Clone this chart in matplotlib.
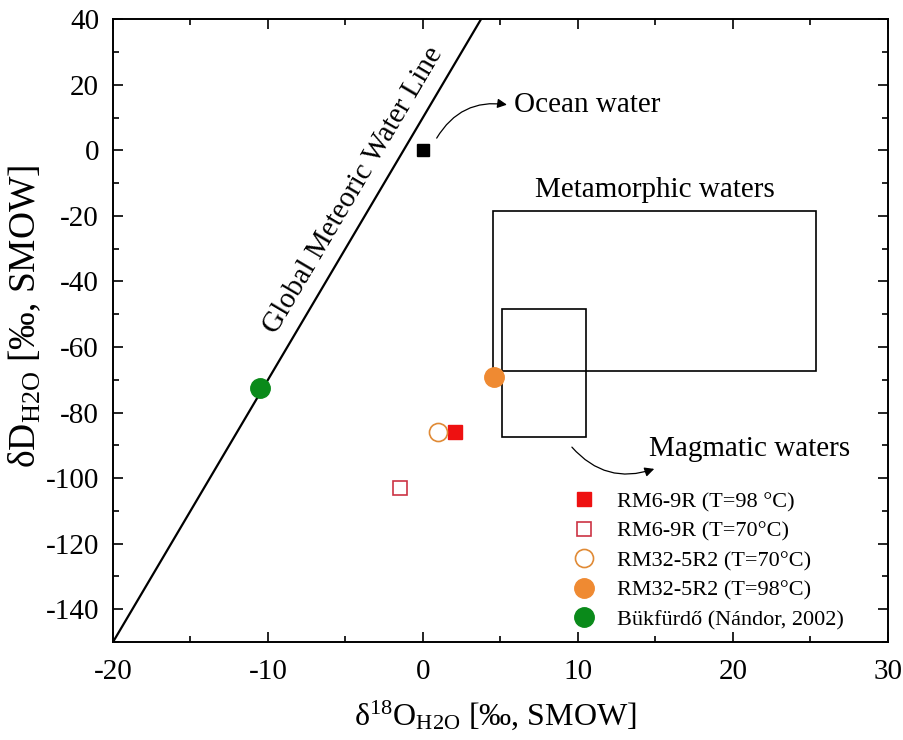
import matplotlib
matplotlib.use('Agg')
import matplotlib.pyplot as plt
import matplotlib.patches as mpatches
import numpy as np

plt.rcParams['font.family'] = ['Liberation Serif', 'DejaVu Serif']
plt.rcParams['mathtext.fontset'] = 'custom'
plt.rcParams['mathtext.rm'] = 'Liberation Serif'
plt.rcParams['mathtext.default'] = 'regular'
plt.rcParams['axes.unicode_minus'] = False

# ── data ─────────────────────────────────────────────
gmwl_slope, gmwl_icpt = 8, 10          # Global Meteoric Water Line dD = 8*d18O + 10
gmwl_x = [-20, 3.75]

ocean = (0.0, 0.0)
labels = ['RM6-9R (T=98 °C)', 'RM6-9R (T=70°C)', 'RM32-5R2 (T=70°C)',
          'RM32-5R2 (T=98°C)', 'Bükfürdő (Nándor, 2002)']
d18o = [2.1, -1.5, 1.0, 4.6, -10.5]
dD   = [-86.0, -103.0, -86.0, -69.0, -72.5]

# boxes: (x0, y0, x1, y1)
metamorphic = (4.5, -67.3, 25.4, -18.4)
magmatic    = (5.1, -87.3, 10.5, -48.3)

# ── figure ───────────────────────────────────────────
fig = plt.figure(figsize=(9.04, 7.40), dpi=100)
ax = fig.add_axes([0.125, 0.1324, 0.857, 0.8416])
ax.set_xlim(-20, 30)
ax.set_ylim(-150, 40)

gx = np.array(gmwl_x)
ax.plot(gx, gmwl_slope * gx + gmwl_icpt, color='black', lw=1.6, zorder=2)

# rotate label to follow the line on screen
p0 = ax.transData.transform((0, gmwl_icpt))
p1 = ax.transData.transform((1, gmwl_slope + gmwl_icpt))
ang = np.degrees(np.arctan2(p1[1] - p0[1], p1[0] - p0[0]))
ax.text(-4.5, -12.3, 'Global Meteoric Water Line', fontsize=21, rotation=ang,
        rotation_mode='anchor', ha='center', va='center')

for x0, y0, x1, y1 in (metamorphic, magmatic):
    ax.add_patch(mpatches.Rectangle((x0, y0), x1 - x0, y1 - y0, fill=False,
                                    ec='black', lw=1.2, zorder=1))

ax.plot(*ocean, marker='s', ms=9, color='black', ls='none', zorder=3)

styles = [
    dict(marker='s', ms=10, mfc='#ee1111', mec='#ee1111'),
    dict(marker='s', ms=10, mfc='white', mec='#cc3344', mew=1.2),
    dict(marker='o', ms=13, mfc='white', mec='#e08a35', mew=1.2),
    dict(marker='o', ms=14, mfc='#ef8a32', mec='#ef8a32'),
    dict(marker='o', ms=14, mfc='#0a8a1a', mec='#0a8a1a'),
]
order = [0, 2, 1, 3, 4]
handles = [None] * 5
for i in order:
    h, = ax.plot(d18o[i], dD[i], ls='none', label=labels[i], zorder=4, **styles[i])
    handles[i] = h

arrow = dict(arrowstyle='-|>', color='black', lw=0.9, mutation_scale=14)
ax.annotate('', xy=(5.6, 13.8), xytext=(0.8, 3.0),
            arrowprops=dict(arrow, connectionstyle='arc3,rad=-0.35'))
ax.text(5.9, 13.8, 'Ocean water', fontsize=21, va='center', ha='left')
ax.text(15.0, -12.0, 'Metamorphic waters', fontsize=21, va='center', ha='center')
ax.annotate('', xy=(15.1, -96.9), xytext=(9.5, -89.9),
            arrowprops=dict(arrow, connectionstyle='arc3,rad=0.35'))
ax.text(14.6, -91.1, 'Magmatic waters', fontsize=21, va='center', ha='left')

ax.set_xticks([-20, -10, 0, 10, 20, 30])
ax.set_xticks(np.arange(-15, 30, 10), minor=True)
ax.set_yticks(np.arange(-140, 41, 20))
ax.set_yticks(np.arange(-150, 40, 20), minor=True)
ax.tick_params(which='both', direction='in', top=True, right=True, labelsize=21, width=1.2)
ax.tick_params(which='major', length=7)
ax.tick_params(axis='x', which='major', pad=12)
ax.tick_params(axis='y', which='major', pad=10)
ax.tick_params(which='minor', length=4)
for s in ax.spines.values():
    s.set_linewidth(1.4)

ax.set_xlabel('δ$^{18}$O$_{H2O}$ [‰, SMOW]', fontsize=23)
ax.set_ylabel('δD$_{H2O}$ [‰, SMOW]', fontsize=27)
ax.xaxis.set_label_coords(0.494, -0.09)
ax.yaxis.set_label_coords(-0.09, 0.523)

ax.legend(handles=handles, loc='lower right', bbox_to_anchor=(0.955, 0.005),
          frameon=False, fontsize=16, labelspacing=0.4, handletextpad=1.0,
          borderaxespad=0.0, borderpad=0.4, handlelength=1.0)

plt.savefig('out.png', dpi=100)
